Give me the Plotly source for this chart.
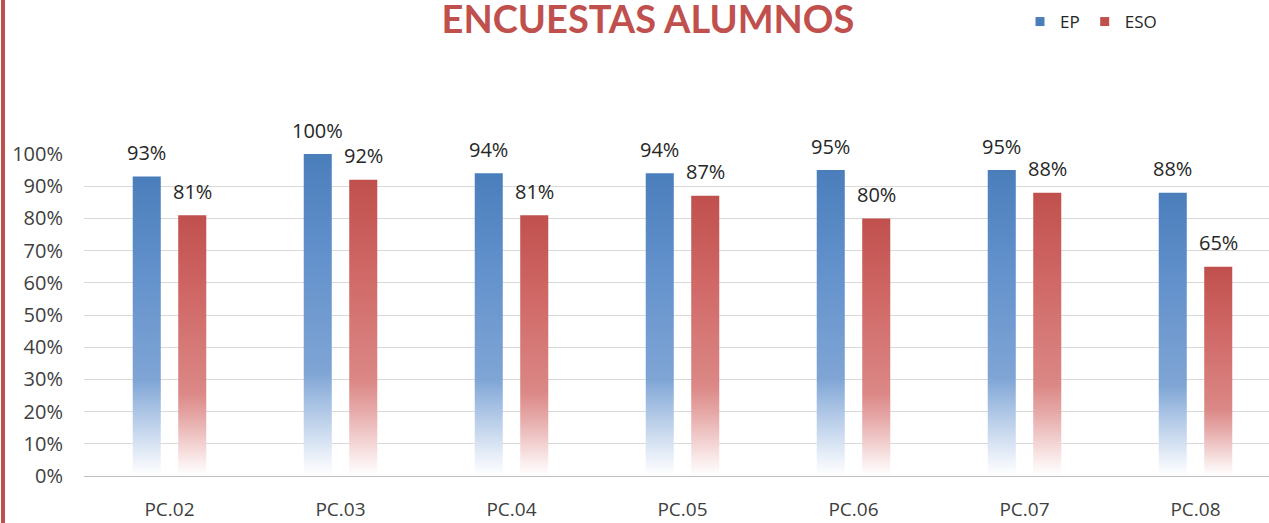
import plotly.graph_objects as go

categories = ["PC.02", "PC.03", "PC.04", "PC.05", "PC.06", "PC.07", "PC.08"]
ep_values = [93, 100, 94, 94, 95, 95, 88]
eso_values = [81, 92, 81, 87, 80, 88, 65]
y_ticks = [0, 10, 20, 30, 40, 50, 60, 70, 80, 90, 100]
y_tick_labels = [f"{t}%" for t in y_ticks]

FONT = "Open Sans"
TEXT_COLOR = "#404040"
BLUE = "#4a7ebb"
RED = "#c0504d"
BLUE_SCALE = [[0, "#ffffff"], [0.05, "#eef3fa"], [0.22, "#a9c3e4"], [0.32, "#7fa5d5"],
              [0.7, "#6190cb"], [1, BLUE]]
RED_SCALE = [[0, "#ffffff"], [0.05, "#fbeeee"], [0.22, "#e6aaa9"], [0.32, "#db8886"],
             [0.7, "#cf6765"], [1, RED]]

BAR_HALF = 0.082   # half bar width, in category units
OFFSET = 0.133     # bar centre offset from category centre

W, H = 1269, 523
M_L, M_R, M_T, M_B = 84, 0, 154, 47


def add_series(fig, name, values, offset, colorscale, color):
    # legend entry only (small square swatch)
    fig.add_trace(go.Scatter(
        x=[None], y=[None], name=name, mode="markers",
        marker=dict(symbol="square", size=9, color=color, line=dict(width=0)),
    ))
    for i, v in enumerate(values):
        xc = i + offset
        fig.add_trace(go.Scatter(
            x=[xc - BAR_HALF, xc - BAR_HALF, xc + BAR_HALF, xc + BAR_HALF, xc - BAR_HALF],
            y=[0, v, v, 0, 0],
            fill="toself",
            fillgradient=dict(type="vertical", colorscale=colorscale),
            mode="lines",
            line=dict(width=0),
            showlegend=False,
            hoverinfo="skip",
        ))
        fig.add_annotation(
            x=xc, y=v, text=f"{v}%", showarrow=False, yshift=24,
            font=dict(family=FONT, size=20, color="#262626"),
        )


fig = go.Figure()
add_series(fig, "EP", ep_values, -OFFSET, BLUE_SCALE, BLUE)
add_series(fig, "ESO", eso_values, OFFSET, RED_SCALE, RED)

plot_w = W - M_L - M_R
plot_h = H - M_T - M_B

# red frame line on the left edge
fig.add_shape(
    type="line", xref="paper", yref="paper",
    x0=(3 - M_L) / plot_w, x1=(3 - M_L) / plot_w,
    y0=-M_B / plot_h - 0.01, y1=(H - M_B) / plot_h + 0.01,
    line=dict(color=RED, width=4),
)

fig.update_layout(
    width=W,
    height=H,
    margin=dict(l=M_L, r=M_R, t=M_T, b=M_B),
    paper_bgcolor="white",
    plot_bgcolor="white",
    title=dict(
        text="<b>ENCUESTAS ALUMNOS</b>",
        font=dict(family="Lato", size=38, color=RED),
        x=648 / W, xanchor="center",
        y=1 - 20 / H, yanchor="middle", yref="container",
    ),
    legend=dict(
        orientation="h",
        x=(1020 - M_L) / plot_w, xanchor="left",
        y=(H - M_B - 22) / plot_h, yanchor="middle",
        font=dict(family=FONT, size=17, color="#262626"),
        itemwidth=30,
        tracegroupgap=0,
    ),
    xaxis=dict(
        range=[-0.5, -0.5 + plot_w / 171],
        tickvals=list(range(len(categories))),
        ticktext=categories,
        showgrid=False,
        zeroline=False,
        showline=True,
        linecolor="#bfbfbf",
        ticks="",
        ticklabelstandoff=16,
        tickfont=dict(family=FONT, size=19, color=TEXT_COLOR),
        fixedrange=True,
    ),
    yaxis=dict(
        range=[0, 100],
        tickvals=y_ticks,
        ticktext=y_tick_labels,
        gridcolor="#d9d9d9",
        zeroline=False,
        showline=False,
        ticks="",
        ticklabelstandoff=20,
        tickfont=dict(family=FONT, size=20, color=TEXT_COLOR),
        fixedrange=True,
    ),
)

fig.write_html(
    "out.html",
    config={"displayModeBar": False},
    post_script="document.body.style.margin='0';",
)
